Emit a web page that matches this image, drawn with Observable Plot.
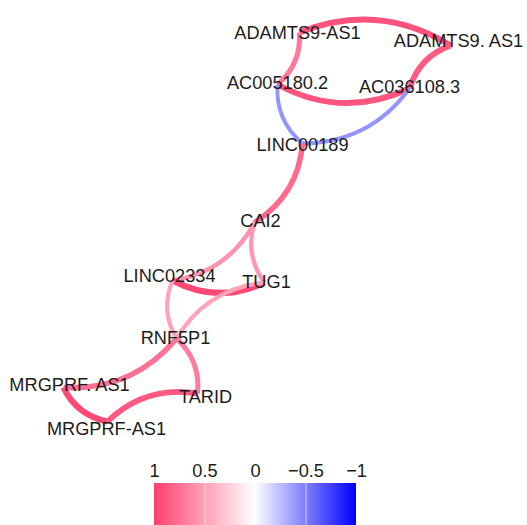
<!DOCTYPE html>
<html>
<head>
<meta charset="utf-8">
<script src="https://cdn.jsdelivr.net/npm/d3@7"></script>
<script src="https://cdn.jsdelivr.net/npm/@observablehq/plot@0.6"></script>
<style>
  html, body { margin: 0; padding: 0; background: #fff; }
  svg { display: block; }
</style>
</head>
<body>
<div id="chart"></div>
<script>
// Node layout (multidimensional scaling coordinates)
const nodes = ["ADAMTS9-AS1", "ADAMTS9. AS1", "AC005180.2", "AC036108.3", "LINC00189", "CAI2",
               "LINC02334", "TUG1", "RNF5P1", "MRGPRF. AS1", "TARID", "MRGPRF-AS1"];
const nodeX = [299, 450, 277, 409, 302, 254, 172, 264, 176, 63, 197, 107];
const nodeY = [32, 45, 84, 88, 143, 222, 280, 282, 338, 387, 393, 421];
// repelled label positions
const labelX = [297, 458, 277, 409, 302, 260, 169, 266, 175, 69, 205, 106];
const labelY = [33, 41, 83, 87, 145, 221, 276, 282, 338, 385, 397, 429];

// Correlation paths (from -> to) and their correlation r
const edgeFrom = ["ADAMTS9-AS1", "AC036108.3", "ADAMTS9-AS1", "AC036108.3", "LINC00189", "AC036108.3",
                  "LINC00189", "CAI2", "TUG1", "TUG1", "RNF5P1", "RNF5P1",
                  "RNF5P1", "RNF5P1", "MRGPRF-AS1", "MRGPRF-AS1"];
const edgeTo   = ["ADAMTS9. AS1", "ADAMTS9. AS1", "AC005180.2", "AC005180.2", "AC005180.2", "LINC00189",
                  "CAI2", "LINC02334", "CAI2", "LINC02334", "LINC02334", "TUG1",
                  "MRGPRF. AS1", "TARID", "MRGPRF. AS1", "TARID"];
const edgeR    = [0.90, 0.86, 0.70, 0.88, -0.42, -0.42,
                  0.78, 0.56, 0.54, 0.95, 0.48, 0.48,
                  0.74, 0.68, 0.95, 0.86];

const legendTicks = [1, 0.5, 0, -0.5, -1];

const idx = new Map(nodes.map((n, i) => [n, i]));
const edges = edgeFrom.map((f, i) => ({
  x1: nodeX[idx.get(f)], y1: nodeY[idx.get(f)],
  x2: nodeX[idx.get(edgeTo[i])], y2: nodeY[idx.get(edgeTo[i])],
  r: edgeR[i]
}));
const labels = nodes.map((n, i) => ({name: n, x: labelX[i], y: labelY[i]}));

const colorOpts = {
  type: "linear",
  domain: [-1, 0, 1],
  range: ["#0000ff", "#ffffff", "#ff3f6e"],
  interpolate: "rgb"
};

// Bent curve (like geom_curve): quadratic arc bulging to the left of travel
function arcCurve(context) {
  let pts = [];
  return {
    areaStart() {}, areaEnd() {},
    lineStart() { pts = []; },
    point(x, y) { pts.push([+x, +y]); },
    lineEnd() {
      const [[x0, y0], [x1, y1]] = pts;
      const dx = x1 - x0, dy = y1 - y0, k = 0.25;
      const cx = (x0 + x1) / 2 + k * dy, cy = (y0 + y1) / 2 - k * dx;
      context.moveTo(x0, y0);
      context.quadraticCurveTo(cx, cy, x1, y1);
    }
  };
}

const W = 527;
const main = Plot.plot({
  width: W, height: 455,
  margin: 0,
  x: {domain: [0, W], range: [0, W], axis: null},
  y: {domain: [0, 455], range: [0, 455], axis: null},
  color: colorOpts,
  style: {fontFamily: "Liberation Sans, Arial, sans-serif", background: "#fff"},
  marks: [
    Plot.link(edges, {
      x1: "x1", y1: "y1", x2: "x2", y2: "y2",
      stroke: "r",
      strokeWidth: d => 2 + 4.5 * Math.abs(d.r),
      strokeLinecap: "butt",
      curve: arcCurve
    }),
    Plot.text(labels, {
      x: "x", y: "y", text: "name",
      fontSize: 18.2, fill: "#1c1c1c"
    })
  ]
});

const barVals = d3.range(-1, 1.0001, 0.01);
const legend = Plot.plot({
  width: W, height: 70,
  marginLeft: 154, marginRight: W - 356, marginTop: 28, marginBottom: 0,
  x: {domain: [1, -1], axis: null},
  y: {domain: [0, 1], axis: null},
  color: colorOpts,
  style: {fontFamily: "Liberation Sans, Arial, sans-serif", background: "#fff"},
  marks: [
    Plot.rect(barVals, {
      x1: d => d, x2: d => Math.min(1, d + 0.0101), y1: 0, y2: 1,
      fill: d => d, shapeRendering: "crispEdges"
    }),
    Plot.ruleX([0.5, -0.5], {stroke: "#fff", strokeOpacity: 0.6, strokeWidth: 1}),
    Plot.axisX(legendTicks, {
      anchor: "top", tickSize: 0, tickPadding: 7,
      tickFormat: d3.format("~g"),
      fontSize: 18.2, fill: "#1c1c1c"
    })
  ]
});

const root = document.getElementById("chart");
root.appendChild(main);
root.appendChild(legend);
</script>
</body>
</html>
